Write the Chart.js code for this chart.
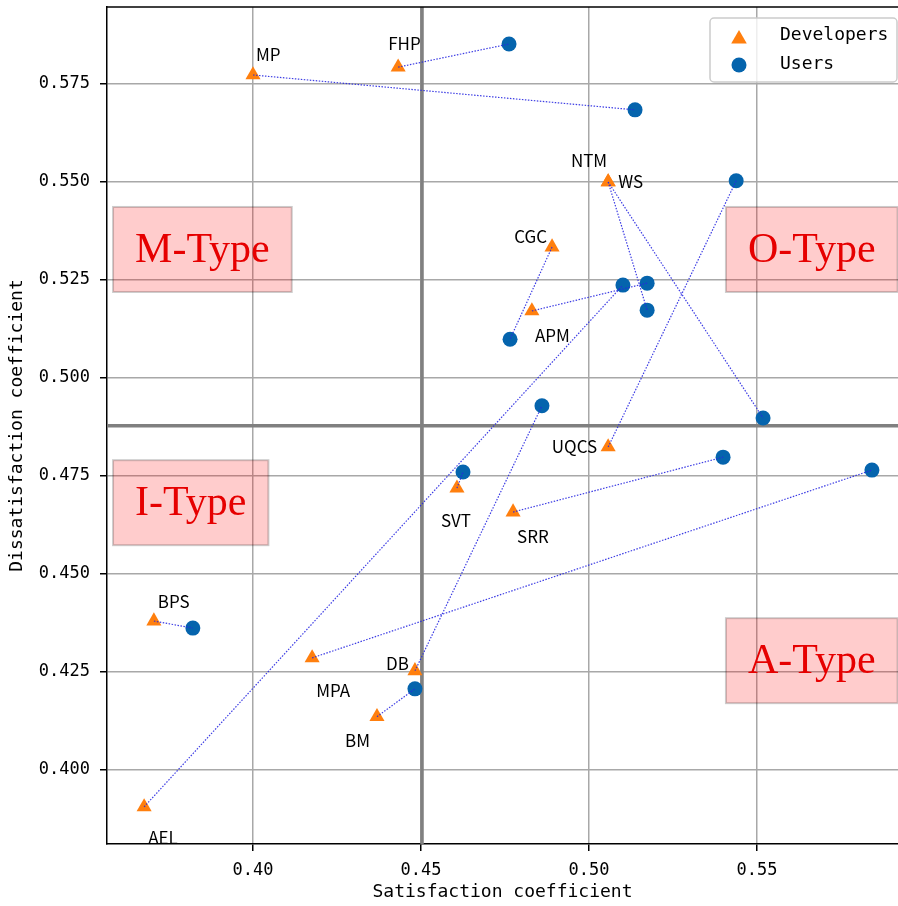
<!DOCTYPE html>
<html>
<head>
<meta charset="utf-8">
<script src="https://cdn.jsdelivr.net/npm/chart.js@4.4.0/dist/chart.umd.min.js"></script>
<style>
    html, body { margin: 0; padding: 0; background: #fff; }
    #wrap { width: 898px; height: 906px; }
</style>
</head>
<body>
<div id="wrap"><canvas id="kanoChart" width="898" height="906"></canvas></div>
<script>
// Requirement codes (same order in every array)
const codes = ['MP', 'FHP', 'NTM', 'WS', 'CGC', 'APM', 'UQCS', 'SVT', 'SRR', 'BPS', 'MPA', 'DB', 'BM', 'AEL'];

// Developers
const devSatisfaction    = [0.4000, 0.4432, 0.5057, 0.5057, 0.4890, 0.4830, 0.5057, 0.4607, 0.4774, 0.3705, 0.4176, 0.4482, 0.4369, 0.3676];
const devDissatisfaction = [0.5773, 0.5793, 0.5500, 0.5500, 0.5334, 0.5171, 0.4824, 0.4719, 0.4658, 0.4380, 0.4286, 0.4253, 0.4136, 0.3906];

// Users
const userSatisfaction    = [0.5137, 0.4762, 0.5173, 0.5518, 0.4765, 0.5173, 0.5438, 0.4625, 0.5399, 0.3821, 0.5842, 0.4860, 0.4482, 0.5101];
const userDissatisfaction = [0.5684, 0.5852, 0.5173, 0.4898, 0.5099, 0.5242, 0.5503, 0.4760, 0.4798, 0.4362, 0.4765, 0.4929, 0.4207, 0.5237];

// Quadrant dividers
const meanSatisfaction = 0.4503;
const meanDissatisfaction = 0.4878;

// Ticks
const xTicks = [0.40, 0.45, 0.50, 0.55];
const yTicks = [0.400, 0.425, 0.450, 0.475, 0.500, 0.525, 0.550, 0.575];

// Quadrant names
const quadrants = ['M-Type', 'I-Type', 'O-Type', 'A-Type'];

// --- layout only (text anchors, in data units / pixel offsets) ---
const quadrantAnchor = [[0.3649, 0.5296], [0.3649, 0.4650], [0.5473, 0.5296], [0.5473, 0.4247]];
// [dx, dy, align] for each code label, relative to the developer point
const labelOffset = {
    MP: [3, -14, 'left'], FHP: [-10, -17, 'left'], NTM: [-1, -15, 'right'], WS: [10, 6, 'left'],
    CGC: [-5, -4, 'right'], APM: [3, 31, 'left'], UQCS: [-11, 6, 'right'], SVT: [-16, 39, 'left'],
    SRR: [4, 31, 'left'], BPS: [4, -13, 'left'], MPA: [4, 39, 'left'], DB: [-6, -1, 'right'],
    BM: [-7, 30, 'right'], AEL: [4, 37, 'left']
};

const ORANGE = '#ff7f0e';
const BLUE = '#0564ad';
const MONO = '"DejaVu Sans Mono", "Liberation Mono", monospace';

function drawTriangle(ctx, x, y, r) {
    ctx.beginPath();
    ctx.moveTo(x, y - r);
    ctx.lineTo(x + r * 0.866, y + r / 2);
    ctx.lineTo(x - r * 0.866, y + r / 2);
    ctx.closePath();
    ctx.fill();
}

// no extra padding for edge tick labels, so the plot fills the frame
function noEdgePadding(axis) {
    axis.paddingTop = 0;
    axis.paddingBottom = 0;
    axis.paddingLeft = 0;
    axis.paddingRight = 0;
}

const kanoPlugin = {
    id: 'kano',
    beforeDatasetsDraw(chart) {
        const { ctx, chartArea: a, scales: { x, y } } = chart;
        ctx.save();
        ctx.beginPath();
        ctx.rect(a.left, a.top, a.right - a.left, a.bottom - a.top);
        ctx.clip();

        // thick divider lines
        const mx = x.getPixelForValue(meanSatisfaction);
        const my = y.getPixelForValue(meanDissatisfaction);
        ctx.strokeStyle = '#808080';
        ctx.lineWidth = 3.5;
        ctx.beginPath();
        ctx.moveTo(mx, a.top); ctx.lineTo(mx, a.bottom);
        ctx.moveTo(a.left, my); ctx.lineTo(a.right, my);
        ctx.stroke();

        // quadrant boxes
        ctx.font = '42px "Liberation Serif", "Times New Roman", serif';
        ctx.textBaseline = 'alphabetic';
        ctx.textAlign = 'left';
        quadrants.forEach((q, i) => {
            const px = x.getPixelForValue(quadrantAnchor[i][0]);
            const py = y.getPixelForValue(quadrantAnchor[i][1]);
            const w = ctx.measureText(q).width;
            ctx.fillStyle = 'rgba(255,0,0,0.2)';
            ctx.fillRect(px - 22, py - 55, w + 44, 85);
            ctx.strokeStyle = 'rgba(0,0,0,0.2)';
            ctx.lineWidth = 2;
            ctx.strokeRect(px - 22, py - 55, w + 44, 85);
            ctx.fillStyle = '#e60000';
            ctx.fillText(q, px, py);
        });
        ctx.restore();
    },
    afterDatasetsDraw(chart) {
        const { ctx, chartArea: a, scales: { x, y } } = chart;
        ctx.save();
        ctx.beginPath();
        ctx.rect(a.left, a.top, a.right - a.left, a.bottom - a.top);
        ctx.clip();
        ctx.font = '17px "Noto Sans CJK SC", "Noto Sans", sans-serif';
        ctx.fillStyle = '#000';
        ctx.textBaseline = 'alphabetic';
        codes.forEach((c, i) => {
            const off = labelOffset[c];
            ctx.textAlign = off[2];
            ctx.fillText(c, x.getPixelForValue(devSatisfaction[i]) + off[0], y.getPixelForValue(devDissatisfaction[i]) + off[1]);
        });
        ctx.restore();
    },
    afterDraw(chart) {
        const { ctx, chartArea: a } = chart;
        ctx.save();
        // top spine
        ctx.strokeStyle = '#000';
        ctx.lineWidth = 1.5;
        ctx.beginPath();
        ctx.moveTo(a.left, a.top); ctx.lineTo(a.right, a.top);
        ctx.stroke();

        // legend
        const lx = a.right - 188, ly = a.top + 11, lw = 187, lh = 64;
        ctx.fillStyle = 'rgba(255,255,255,0.8)';
        ctx.strokeStyle = '#cccccc';
        ctx.lineWidth = 1.5;
        ctx.beginPath();
        ctx.roundRect(lx, ly, lw, lh, 4);
        ctx.fill();
        ctx.stroke();
        ctx.fillStyle = ORANGE;
        drawTriangle(ctx, lx + 29, ly + 21, 9);
        ctx.fillStyle = BLUE;
        ctx.beginPath();
        ctx.arc(lx + 29, ly + 47, 7.5, 0, Math.PI * 2);
        ctx.fill();
        ctx.fillStyle = '#000';
        ctx.font = '18px ' + MONO;
        ctx.textAlign = 'left';
        ctx.textBaseline = 'middle';
        ctx.fillText('Developers', lx + 70, ly + 17);
        ctx.fillText('Users', lx + 70, ly + 46);
        ctx.restore();
    }
};

// dotted pair lines built from the arrays
const pairLines = codes.map((c, i) => ({
    label: c,
    data: [
        { x: devSatisfaction[i], y: devDissatisfaction[i] },
        { x: userSatisfaction[i], y: userDissatisfaction[i] }
    ],
    showLine: true,
    borderColor: 'rgba(40,40,225,0.9)',
    borderWidth: 1.2,
    borderDash: [1.5, 1.5],
    pointRadius: 0,
    fill: false,
    order: 0
}));

document.addEventListener('DOMContentLoaded', function() {
    const ctx = document.getElementById('kanoChart').getContext('2d');
    new Chart(ctx, {
        type: 'scatter',
        data: {
            datasets: [
                {
                    label: 'Developers',
                    data: codes.map((c, i) => ({ x: devSatisfaction[i], y: devDissatisfaction[i] })),
                    pointStyle: 'triangle',
                    pointRadius: 8.7,
                    pointBackgroundColor: ORANGE,
                    pointBorderWidth: 0,
                    order: 2
                },
                {
                    label: 'Users',
                    data: codes.map((c, i) => ({ x: userSatisfaction[i], y: userDissatisfaction[i] })),
                    pointStyle: 'circle',
                    pointRadius: 7.5,
                    pointBackgroundColor: BLUE,
                    pointBorderWidth: 0,
                    order: 2
                }
            ].concat(pairLines)
        },
        options: {
            responsive: false,
            animation: false,
            events: [],
            layout: { autoPadding: false, padding: { left: 0, top: 7, right: 0, bottom: 0 } },
            plugins: {
                legend: { display: false },
                tooltip: { enabled: false }
            },
            scales: {
                x: {
                    type: 'linear',
                    min: 0.35655,
                    max: 0.59196,
                    afterBuildTicks: axis => { axis.ticks = xTicks.map(v => ({ value: v })); },
                    afterFit: axis => { axis.height = 62; noEdgePadding(axis); },
                    ticks: {
                        callback: v => v.toFixed(2),
                        color: '#000',
                        font: { family: MONO, size: 17 },
                        padding: 9,
                        maxRotation: 0
                    },
                    grid: { color: '#a8a8a8', lineWidth: 1.5, tickColor: '#000', tickLength: 7, tickWidth: 1.5 },
                    border: { display: true, color: '#000', width: 1.5 },
                    title: {
                        display: true,
                        text: 'Satisfaction coefficient',
                        color: '#000',
                        font: { family: MONO, size: 18 },
                        padding: { top: 0, bottom: 3 }
                    }
                },
                y: {
                    type: 'linear',
                    min: 0.38112,
                    max: 0.59464,
                    afterBuildTicks: axis => { axis.ticks = yTicks.map(v => ({ value: v })); },
                    afterFit: axis => { axis.width = 107; noEdgePadding(axis); },
                    ticks: {
                        callback: v => v.toFixed(3),
                        color: '#000',
                        font: { family: MONO, size: 17 },
                        padding: 10
                    },
                    grid: { color: '#a8a8a8', lineWidth: 1.5, tickColor: '#000', tickLength: 7, tickWidth: 1.5 },
                    border: { display: true, color: '#000', width: 1.5 },
                    title: {
                        display: true,
                        text: 'Dissatisfaction coefficient',
                        color: '#000',
                        font: { family: MONO, size: 18 },
                        padding: { top: 7, bottom: 0 }
                    }
                }
            }
        },
        plugins: [kanoPlugin]
    });
});
</script>
</body>
</html>
